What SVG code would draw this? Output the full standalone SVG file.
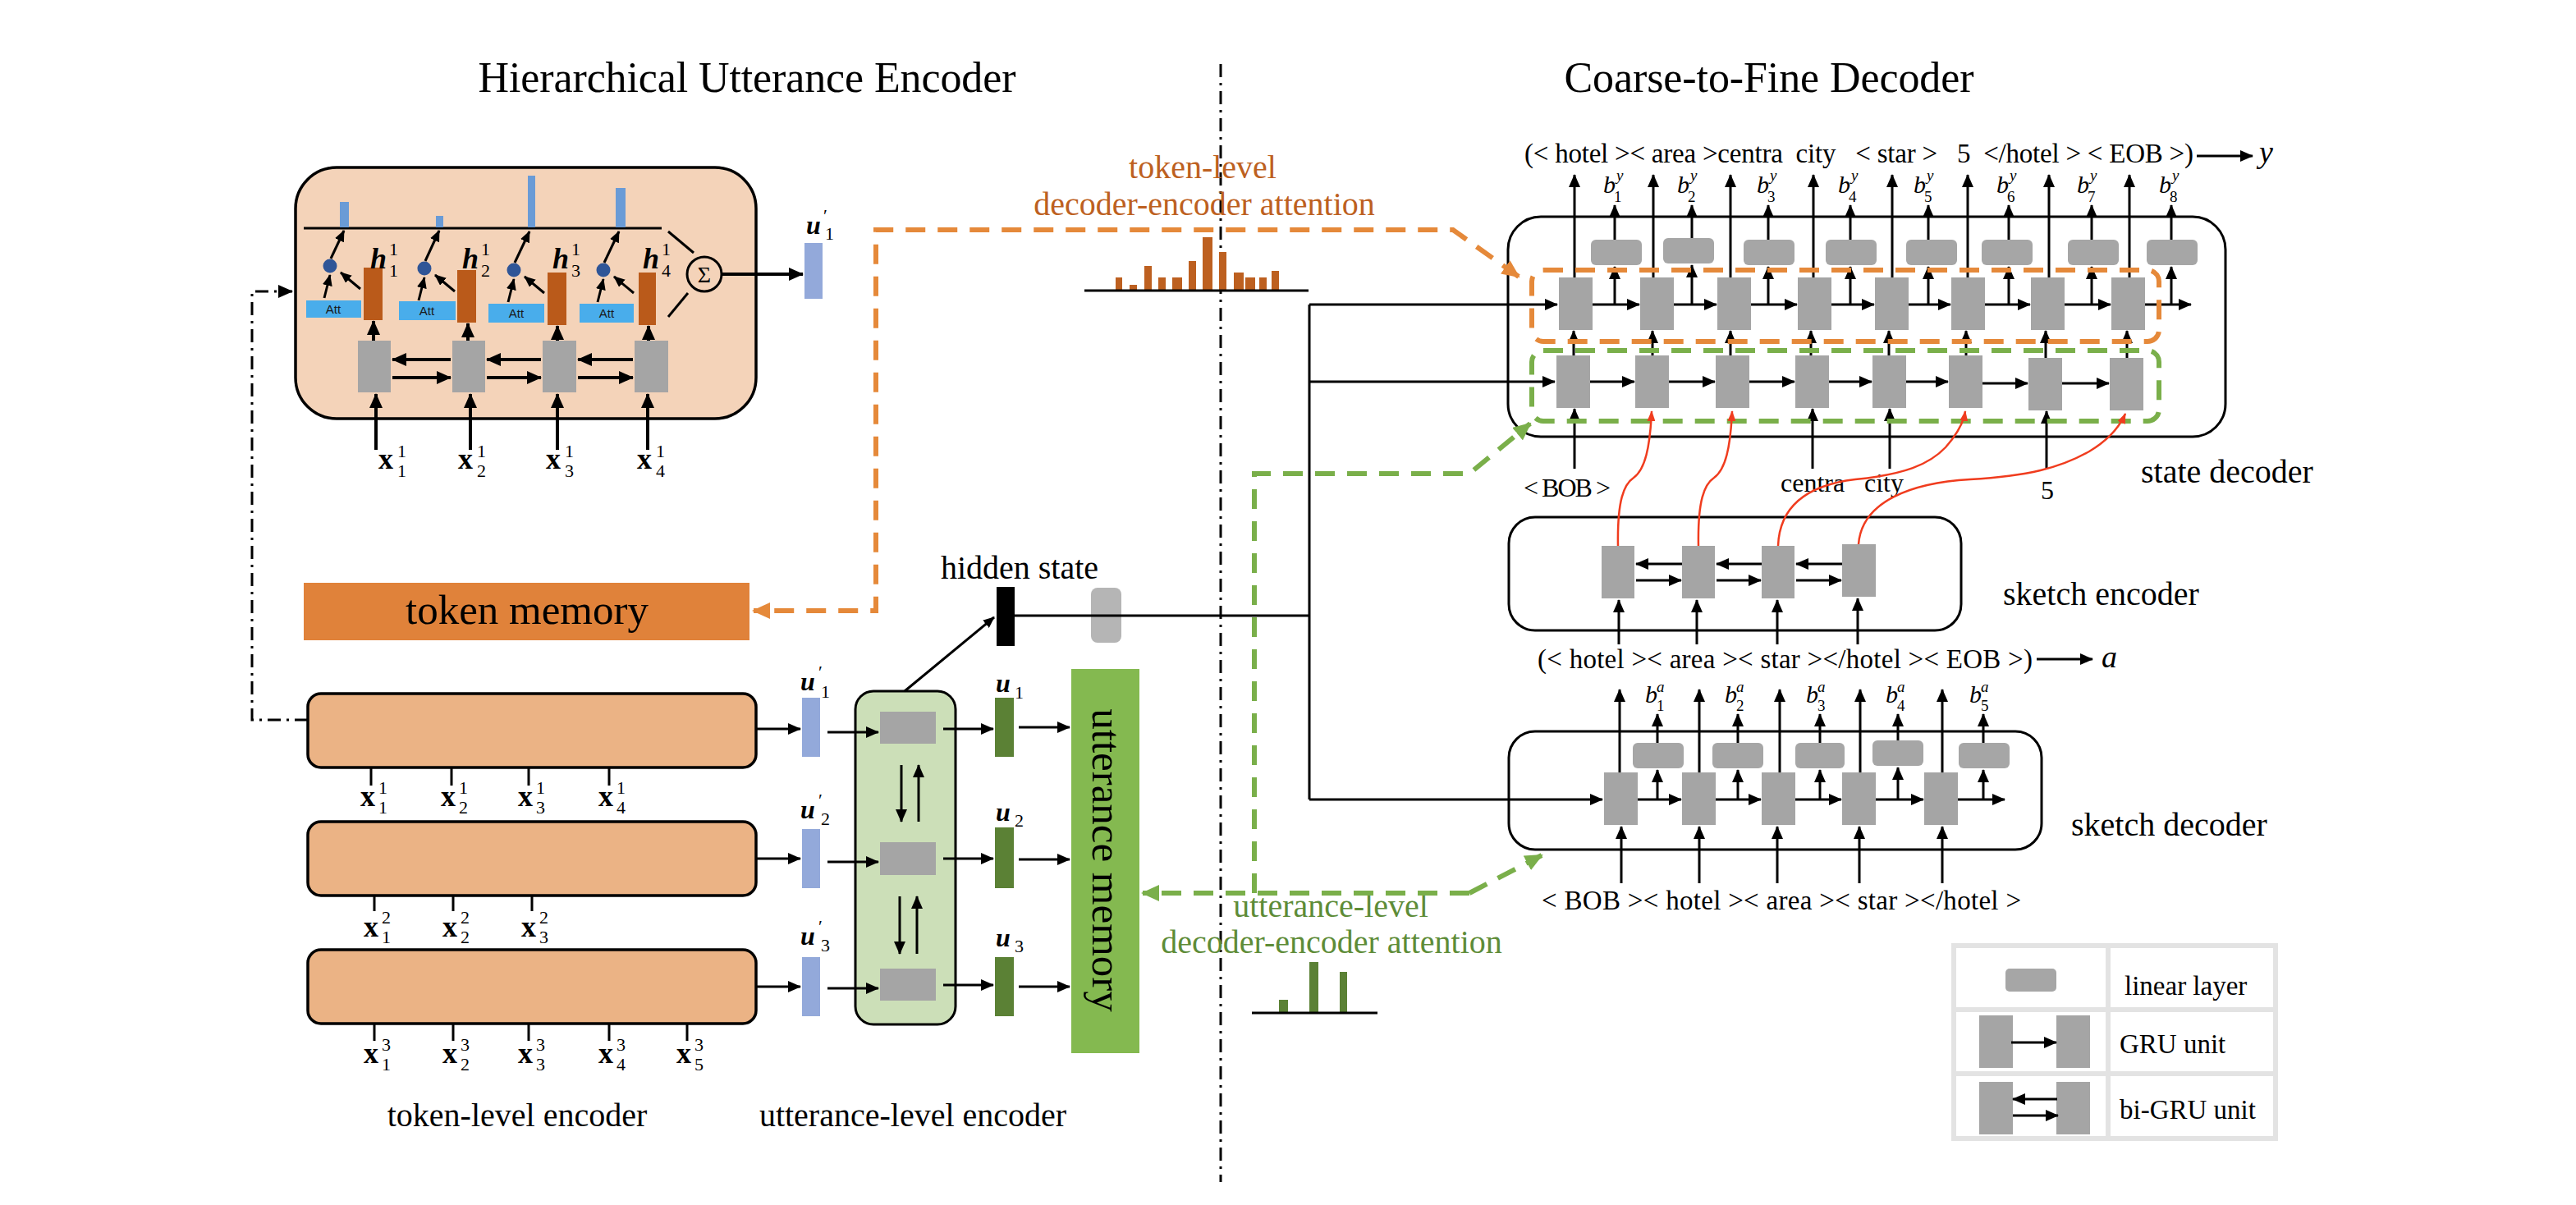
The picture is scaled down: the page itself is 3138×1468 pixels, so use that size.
<svg xmlns="http://www.w3.org/2000/svg" width="3138" height="1468" viewBox="0 0 3138 1468">
<defs>
<style>
text{font-family:"Liberation Serif","Times New Roman",serif;fill:#000}
.tt{font-size:52px}
.lb{font-size:40px}
.gru{fill:#A5A5A5}
.lin{fill:#A6A6A6}
.ln{stroke:#000;stroke-width:3;fill:none}
.a{stroke:#000;stroke-width:3;fill:none;marker-end:url(#am)}
.aL{stroke:#000;stroke-width:4;fill:none;marker-end:url(#al)}
.aS{stroke:#000;stroke-width:3;fill:none;marker-end:url(#as)}
.red{stroke:#F03C1E;stroke-width:2.5;fill:none;marker-end:url(#ar)}
.od{stroke:#E5893A;stroke-width:6;fill:none;stroke-dasharray:24 15}
.gd{stroke:#7AAF4A;stroke-width:6;fill:none;stroke-dasharray:24 15}
.dd{stroke:#000;stroke-width:3;fill:none;stroke-dasharray:16 7 3 7}
.xl{font-weight:bold;font-size:36px}
.ss{font-size:22px}
.hb{font-weight:bold;font-style:italic;font-size:36px}
.ub{font-weight:bold;font-style:italic;font-size:32px}
.bi{font-style:italic;font-size:30px}
.bs{font-style:italic;font-size:19px}
.bn{font-size:19px}
.tok{font-size:33px;white-space:pre}
.att{font-family:"Liberation Sans",Arial,sans-serif;font-size:15px;fill:#1a1a1a}
.orange{fill:#BD6020}
.green{fill:#5E8C38}
</style>
<marker id="am" viewBox="0 0 16 14" refX="15" refY="7" markerWidth="16" markerHeight="14" markerUnits="userSpaceOnUse" orient="auto"><path d="M0,0L16,7L0,14z" fill="#000"/></marker>
<marker id="al" viewBox="0 0 18 16" refX="17" refY="8" markerWidth="18" markerHeight="16" markerUnits="userSpaceOnUse" orient="auto"><path d="M0,0L18,8L0,16z" fill="#000"/></marker>
<marker id="as" viewBox="0 0 14 12" refX="13" refY="6" markerWidth="14" markerHeight="12" markerUnits="userSpaceOnUse" orient="auto"><path d="M0,0L14,6L0,12z" fill="#000"/></marker>
<marker id="ar" viewBox="0 0 13 10" refX="12" refY="5" markerWidth="13" markerHeight="10" markerUnits="userSpaceOnUse" orient="auto"><path d="M0,0L13,5L0,10z" fill="#F03C1E"/></marker>
<marker id="ao" viewBox="0 0 22 20" refX="20" refY="10" markerWidth="22" markerHeight="20" markerUnits="userSpaceOnUse" orient="auto-start-reverse"><path d="M0,0L22,10L0,20z" fill="#E5893A"/></marker>
<marker id="ag" viewBox="0 0 22 20" refX="20" refY="10" markerWidth="22" markerHeight="20" markerUnits="userSpaceOnUse" orient="auto"><path d="M0,0L22,10L0,20z" fill="#7AAF4A"/></marker>
</defs>
<rect width="3138" height="1468" fill="#fff"/>

<g id="titles">
<text class="tt" x="910" y="112" text-anchor="middle" textLength="655">Hierarchical Utterance Encoder</text>
<text class="tt" x="2155" y="112" text-anchor="middle" textLength="499">Coarse-to-Fine Decoder</text>
</g>

<g id="divider">
<line class="dd" x1="1487" y1="78" x2="1487" y2="1440"/>
</g>

<g id="attention-encoder">
<rect x="360" y="204" width="561" height="306" rx="50" fill="#F4D3B9" stroke="#000" stroke-width="3.5"/>
<line class="ln" x1="370" y1="278" x2="806" y2="278" stroke-width="3.5"/>
<g fill="#6A9BD6"><rect x="414" y="246" width="11" height="31"/><rect x="531" y="263" width="9" height="14"/><rect x="643" y="214" width="9" height="63"/><rect x="750" y="229" width="12" height="48"/></g>
<line class="ln" x1="814" y1="282" x2="845" y2="308"/>
<line class="ln" x1="814" y1="386" x2="838" y2="357"/>
<circle cx="858" cy="334" r="21" fill="none" stroke="#000" stroke-width="3"/>
<text x="858" y="344" font-size="28" text-anchor="middle">Σ</text>
<g fill="#49ADEB"><rect x="373" y="366" width="67" height="21"/><rect x="486" y="367" width="69" height="23"/><rect x="595" y="370" width="68" height="23"/><rect x="706" y="370" width="66" height="23"/></g>
<text class="att" x="406" y="382" text-anchor="middle">Att</text>
<text class="att" x="520" y="384" text-anchor="middle">Att</text>
<text class="att" x="629" y="387" text-anchor="middle">Att</text>
<text class="att" x="739" y="387" text-anchor="middle">Att</text>
<g fill="#BA5A1A"><rect x="443" y="326" width="23" height="64"/><rect x="557" y="329" width="23" height="64"/><rect x="667" y="332" width="23" height="64"/><rect x="778" y="332" width="21" height="64"/></g>
<g fill="#2F5597"><circle cx="402" cy="324" r="8.5"/><circle cx="517" cy="327" r="8.5"/><circle cx="626" cy="329" r="8.5"/><circle cx="735" cy="329" r="8.5"/></g>
<line class="aS" x1="395" y1="363" x2="402" y2="335"/>
<line class="aS" x1="510" y1="366" x2="517" y2="338"/>
<line class="aS" x1="619" y1="368" x2="626" y2="340"/>
<line class="aS" x1="728" y1="368" x2="735" y2="340"/>
<line class="aS" x1="439" y1="352" x2="415" y2="332"/>
<line class="aS" x1="554" y1="355" x2="530" y2="335"/>
<line class="aS" x1="663" y1="357" x2="639" y2="337"/>
<line class="aS" x1="772" y1="357" x2="748" y2="337"/>
<line class="aS" x1="403" y1="315" x2="419" y2="281"/>
<line class="aS" x1="518" y1="318" x2="535" y2="281"/>
<line class="aS" x1="627" y1="320" x2="645" y2="282"/>
<line class="aS" x1="736" y1="320" x2="754" y2="282"/>
<text class="hb" x="451" y="327">h</text><text class="ss" x="474" y="311">1</text><text class="ss" x="474" y="337">1</text>
<text class="hb" x="563" y="327">h</text><text class="ss" x="586" y="311">1</text><text class="ss" x="586" y="337">2</text>
<text class="hb" x="673" y="327">h</text><text class="ss" x="696" y="311">1</text><text class="ss" x="696" y="337">3</text>
<text class="hb" x="783" y="327">h</text><text class="ss" x="806" y="311">1</text><text class="ss" x="806" y="337">4</text>
<g class="gru"><rect x="436" y="415" width="40" height="63"/><rect x="551" y="415" width="40" height="63"/><rect x="661" y="415" width="41" height="63"/><rect x="773" y="415" width="41" height="63"/></g>
<line class="aL" x1="455" y1="415" x2="455" y2="391"/>
<line class="aL" x1="570" y1="415" x2="570" y2="394"/>
<line class="aL" x1="679" y1="415" x2="679" y2="397"/>
<line class="aL" x1="790" y1="415" x2="790" y2="397"/>
<line class="aL" x1="549" y1="438" x2="478" y2="438"/>
<line class="aL" x1="659" y1="438" x2="593" y2="438"/>
<line class="aL" x1="771" y1="438" x2="704" y2="438"/>
<line class="aL" x1="478" y1="460" x2="549" y2="460"/>
<line class="aL" x1="593" y1="460" x2="659" y2="460"/>
<line class="aL" x1="704" y1="460" x2="771" y2="460"/>
<line class="aL" x1="458" y1="548" x2="458" y2="480"/>
<line class="aL" x1="573" y1="548" x2="573" y2="480"/>
<line class="aL" x1="679" y1="548" x2="679" y2="480"/>
<line class="aL" x1="789" y1="548" x2="789" y2="480"/>
<text class="xl" x="461" y="571">x</text><text class="ss" x="484" y="557">1</text><text class="ss" x="484" y="581">1</text>
<text class="xl" x="558" y="571">x</text><text class="ss" x="581" y="557">1</text><text class="ss" x="581" y="581">2</text>
<text class="xl" x="665" y="571">x</text><text class="ss" x="688" y="557">1</text><text class="ss" x="688" y="581">3</text>
<text class="xl" x="776" y="571">x</text><text class="ss" x="799" y="557">1</text><text class="ss" x="799" y="581">4</text>
<rect x="980" y="296" width="22" height="68" fill="#93A9DA"/>
<text class="ub" x="982" y="285">u</text><text class="ss" x="1003" y="270">′</text><text class="ss" x="1005" y="292">1</text>
</g>

<g id="token-memory">
<rect x="370" y="710" width="543" height="70" fill="#E0823A"/>
<text x="642" y="760" font-size="51" text-anchor="middle">token memory</text>
</g>

<g id="token-encoder-1">
<rect x="375" y="845" width="546" height="90" rx="16" fill="#EBB385" stroke="#000" stroke-width="3.5"/>
<g class="ln" stroke-width="2.5"><line x1="452" y1="935" x2="452" y2="957"/><line x1="550" y1="935" x2="550" y2="957"/><line x1="644" y1="935" x2="644" y2="957"/><line x1="742" y1="935" x2="742" y2="957"/></g>
<text class="xl" x="439" y="982">x</text><text class="ss" x="461" y="967">1</text><text class="ss" x="461" y="991">1</text>
<text class="xl" x="537" y="982">x</text><text class="ss" x="559" y="967">1</text><text class="ss" x="559" y="991">2</text>
<text class="xl" x="631" y="982">x</text><text class="ss" x="653" y="967">1</text><text class="ss" x="653" y="991">3</text>
<text class="xl" x="729" y="982">x</text><text class="ss" x="751" y="967">1</text><text class="ss" x="751" y="991">4</text>
</g>
<g id="token-encoder-2">
<rect x="375" y="1001" width="546" height="90" rx="16" fill="#EBB385" stroke="#000" stroke-width="3.5"/>
<g class="ln" stroke-width="2.5"><line x1="456" y1="1091" x2="456" y2="1110"/><line x1="552" y1="1091" x2="552" y2="1110"/><line x1="648" y1="1091" x2="648" y2="1110"/></g>
<text class="xl" x="443" y="1141">x</text><text class="ss" x="465" y="1125">2</text><text class="ss" x="465" y="1149">1</text>
<text class="xl" x="539" y="1141">x</text><text class="ss" x="561" y="1125">2</text><text class="ss" x="561" y="1149">2</text>
<text class="xl" x="635" y="1141">x</text><text class="ss" x="657" y="1125">2</text><text class="ss" x="657" y="1149">3</text>
</g>
<g id="token-encoder-3">
<rect x="375" y="1157" width="546" height="90" rx="16" fill="#EBB385" stroke="#000" stroke-width="3.5"/>
<g class="ln" stroke-width="2.5"><line x1="456" y1="1247" x2="456" y2="1268"/><line x1="552" y1="1247" x2="552" y2="1268"/><line x1="644" y1="1247" x2="644" y2="1268"/><line x1="742" y1="1247" x2="742" y2="1268"/><line x1="837" y1="1247" x2="837" y2="1268"/></g>
<text class="xl" x="443" y="1295">x</text><text class="ss" x="465" y="1280">3</text><text class="ss" x="465" y="1304">1</text>
<text class="xl" x="539" y="1295">x</text><text class="ss" x="561" y="1280">3</text><text class="ss" x="561" y="1304">2</text>
<text class="xl" x="631" y="1295">x</text><text class="ss" x="653" y="1280">3</text><text class="ss" x="653" y="1304">3</text>
<text class="xl" x="729" y="1295">x</text><text class="ss" x="751" y="1280">3</text><text class="ss" x="751" y="1304">4</text>
<text class="xl" x="824" y="1295">x</text><text class="ss" x="846" y="1280">3</text><text class="ss" x="846" y="1304">5</text>
<text class="lb" x="630" y="1372" text-anchor="middle">token-level encoder</text>
</g>

<g id="utterance-encoder">
<g fill="#93A9DA"><rect x="977" y="850" width="22" height="72"/><rect x="977" y="1010" width="22" height="72"/><rect x="977" y="1166" width="22" height="72"/></g>
<text class="ub" x="975" y="841">u</text><text class="ss" x="997" y="826">′</text><text class="ss" x="1000" y="850">1</text>
<text class="ub" x="975" y="997">u</text><text class="ss" x="997" y="982">′</text><text class="ss" x="1000" y="1005">2</text>
<text class="ub" x="975" y="1151">u</text><text class="ss" x="997" y="1136">′</text><text class="ss" x="1000" y="1159">3</text>
<rect x="1042" y="842" width="122" height="406" rx="22" fill="#CCDFB8" stroke="#000" stroke-width="3"/>
<g class="gru"><rect x="1072" y="867" width="68" height="39"/><rect x="1072" y="1026" width="68" height="40"/><rect x="1072" y="1180" width="68" height="39"/></g>
<line class="a" x1="1098" y1="932" x2="1098" y2="1001"/>
<line class="a" x1="1119" y1="1001" x2="1119" y2="932"/>
<line class="a" x1="1096" y1="1092" x2="1096" y2="1162"/>
<line class="a" x1="1117" y1="1162" x2="1117" y2="1092"/>
<g fill="#5B8135"><rect x="1212" y="850" width="23" height="72"/><rect x="1212" y="1008" width="23" height="74"/><rect x="1212" y="1166" width="23" height="72"/></g>
<text class="ub" x="1213" y="843">u</text><text class="ss" x="1236" y="851">1</text>
<text class="ub" x="1213" y="1000">u</text><text class="ss" x="1236" y="1007">2</text>
<text class="ub" x="1213" y="1153">u</text><text class="ss" x="1236" y="1160">3</text>
<text class="lb" x="1112" y="1372" text-anchor="middle">utterance-level encoder</text>
</g>

<g id="utterance-memory">
<rect x="1305" y="815" width="83" height="468" fill="#84B950"/>
<text transform="translate(1331,1048) rotate(90)" font-size="51" text-anchor="middle" fill="#222">utterance memory</text>
</g>

<g id="hidden-state">
<text class="lb" x="1242" y="705" text-anchor="middle">hidden state</text>
<rect x="1214" y="715" width="22" height="72" fill="#000"/>
<rect x="1329" y="716" width="37" height="67" rx="8" fill="#B5B5B5"/>
</g>

<g id="token-attention">
<text class="lb orange" x="1465" y="217" text-anchor="middle">token-level</text>
<text class="lb orange" x="1467" y="262" text-anchor="middle">decoder-encoder attention</text>
<g class="orange">
<rect x="1359" y="338" width="8" height="16"/><rect x="1376" y="347" width="9" height="7"/><rect x="1394" y="324" width="9" height="30"/><rect x="1411" y="338" width="9" height="16"/><rect x="1428" y="338" width="12" height="16"/><rect x="1448" y="318" width="9" height="36"/><rect x="1465" y="289" width="12" height="65"/><rect x="1485" y="307" width="9" height="47"/><rect x="1503" y="332" width="12" height="22"/><rect x="1517" y="338" width="12" height="16"/><rect x="1534" y="338" width="9" height="16"/><rect x="1549" y="330" width="9" height="24"/>
</g>
<line class="ln" x1="1321" y1="354" x2="1594" y2="354"/>
</g>

<g id="utterance-attention">
<text class="lb green" x="1621" y="1117" text-anchor="middle">utterance-level</text>
<text class="lb green" x="1622" y="1161" text-anchor="middle">decoder-encoder attention</text>
<g fill="#5B8135"><rect x="1558" y="1218" width="11" height="16"/><rect x="1595" y="1172" width="11" height="62"/><rect x="1632" y="1184" width="9" height="50"/></g>
<line class="ln" x1="1525" y1="1234" x2="1678" y2="1234"/>
</g>

<g id="state-decoder">
<rect x="1837" y="264" width="874" height="268" rx="40" fill="none" stroke="#000" stroke-width="3"/>
<text class="tok" x="1857" y="198" textLength="815">(&lt; hotel &gt;&lt; area &gt;centra  city   &lt; star &gt;   5  &lt;/hotel &gt; &lt; EOB &gt;)</text>
<line class="a" x1="2676" y1="190" x2="2744" y2="190"/>
<text x="2752" y="198" font-size="38" font-style="italic">y</text>
<g class="lin"><rect x="1938" y="292" width="62" height="31" rx="6"/><rect x="2026" y="290" width="62" height="31" rx="6"/><rect x="2124" y="292" width="62" height="31" rx="6"/><rect x="2224" y="292" width="62" height="31" rx="6"/><rect x="2322" y="292" width="62" height="31" rx="6"/><rect x="2414" y="292" width="62" height="31" rx="6"/><rect x="2519" y="292" width="62" height="31" rx="6"/><rect x="2615" y="292" width="62" height="31" rx="6"/></g>
<g class="gru"><rect x="1899" y="338" width="41" height="64"/><rect x="1998" y="338" width="41" height="64"/><rect x="2092" y="338" width="41" height="64"/><rect x="2190" y="338" width="41" height="64"/><rect x="2284" y="338" width="41" height="64"/><rect x="2377" y="338" width="41" height="64"/><rect x="2474" y="338" width="41" height="64"/><rect x="2572" y="338" width="41" height="64"/></g>
<g class="gru"><rect x="1896" y="433" width="41" height="64"/><rect x="1992" y="433" width="41" height="64"/><rect x="2090" y="433" width="41" height="64"/><rect x="2187" y="433" width="41" height="64"/><rect x="2281" y="433" width="41" height="64"/><rect x="2374" y="433" width="41" height="64"/><rect x="2471" y="436" width="41" height="64"/><rect x="2570" y="436" width="41" height="64"/></g>
<g>
<line class="a" x1="1918" y1="338" x2="1918" y2="213"/><line class="a" x1="2014" y1="338" x2="2014" y2="213"/><line class="a" x1="2108" y1="338" x2="2108" y2="213"/><line class="a" x1="2209" y1="338" x2="2209" y2="213"/><line class="a" x1="2305" y1="338" x2="2305" y2="213"/><line class="a" x1="2397" y1="338" x2="2397" y2="213"/><line class="a" x1="2496" y1="338" x2="2496" y2="213"/><line class="a" x1="2594" y1="338" x2="2594" y2="213"/>
<line class="a" x1="1967" y1="371" x2="1967" y2="325"/><line class="a" x1="2061" y1="371" x2="2061" y2="323"/><line class="a" x1="2154" y1="371" x2="2154" y2="325"/><line class="a" x1="2254" y1="371" x2="2254" y2="325"/><line class="a" x1="2349" y1="371" x2="2349" y2="325"/><line class="a" x1="2447" y1="371" x2="2447" y2="325"/><line class="a" x1="2548" y1="371" x2="2548" y2="325"/><line class="a" x1="2645" y1="371" x2="2645" y2="325"/>
<line class="a" x1="1967" y1="292" x2="1967" y2="250"/><line class="a" x1="2061" y1="290" x2="2061" y2="250"/><line class="a" x1="2154" y1="292" x2="2154" y2="250"/><line class="a" x1="2254" y1="292" x2="2254" y2="250"/><line class="a" x1="2349" y1="292" x2="2349" y2="250"/><line class="a" x1="2447" y1="292" x2="2447" y2="250"/><line class="a" x1="2548" y1="292" x2="2548" y2="250"/><line class="a" x1="2645" y1="292" x2="2645" y2="250"/>
<line class="a" x1="1940" y1="371" x2="1997" y2="371"/><line class="a" x1="2039" y1="371" x2="2091" y2="371"/><line class="a" x1="2133" y1="371" x2="2189" y2="371"/><line class="a" x1="2231" y1="371" x2="2283" y2="371"/><line class="a" x1="2325" y1="371" x2="2376" y2="371"/><line class="a" x1="2418" y1="371" x2="2473" y2="371"/><line class="a" x1="2515" y1="371" x2="2571" y2="371"/><line class="a" x1="2613" y1="371" x2="2669" y2="371"/>
<line class="a" x1="1917" y1="433" x2="1917" y2="403"/><line class="a" x1="2013" y1="433" x2="2013" y2="403"/><line class="a" x1="2108" y1="433" x2="2108" y2="403"/><line class="a" x1="2206" y1="433" x2="2206" y2="403"/><line class="a" x1="2301" y1="433" x2="2301" y2="403"/><line class="a" x1="2395" y1="433" x2="2395" y2="403"/><line class="a" x1="2492" y1="436" x2="2492" y2="403"/><line class="a" x1="2591" y1="436" x2="2591" y2="403"/>
<line class="a" x1="1937" y1="465" x2="1991" y2="465"/><line class="a" x1="2033" y1="465" x2="2089" y2="465"/><line class="a" x1="2131" y1="465" x2="2186" y2="465"/><line class="a" x1="2228" y1="465" x2="2280" y2="465"/><line class="a" x1="2322" y1="465" x2="2373" y2="465"/><line class="a" x1="2415" y1="467" x2="2470" y2="467"/><line class="a" x1="2512" y1="467" x2="2569" y2="467"/>
<line class="a" x1="1918" y1="571" x2="1918" y2="498"/><line class="a" x1="2208" y1="571" x2="2208" y2="498"/><line class="a" x1="2302" y1="571" x2="2302" y2="498"/><line class="a" x1="2493" y1="571" x2="2493" y2="501"/>
</g>
<text class="bi" x="1953" y="235">b</text><text class="bs" x="1969" y="220">y</text><text class="bn" x="1966" y="246">1</text>
<text class="bi" x="2043" y="235">b</text><text class="bs" x="2059" y="220">y</text><text class="bn" x="2056" y="246">2</text>
<text class="bi" x="2140" y="235">b</text><text class="bs" x="2156" y="220">y</text><text class="bn" x="2153" y="246">3</text>
<text class="bi" x="2239" y="235">b</text><text class="bs" x="2255" y="220">y</text><text class="bn" x="2252" y="246">4</text>
<text class="bi" x="2331" y="235">b</text><text class="bs" x="2347" y="220">y</text><text class="bn" x="2344" y="246">5</text>
<text class="bi" x="2432" y="235">b</text><text class="bs" x="2448" y="220">y</text><text class="bn" x="2445" y="246">6</text>
<text class="bi" x="2530" y="235">b</text><text class="bs" x="2546" y="220">y</text><text class="bn" x="2543" y="246">7</text>
<text class="bi" x="2630" y="235">b</text><text class="bs" x="2646" y="220">y</text><text class="bn" x="2643" y="246">8</text>
<rect class="od" x="1866" y="329" width="764" height="87" rx="14"/>
<rect class="gd" x="1866" y="427" width="764" height="86" rx="14"/>
<text x="1856" y="605" font-size="32" textLength="106">&lt; BOB &gt;</text>
<text x="2169" y="599" font-size="32">centra</text>
<text x="2271" y="599" font-size="32">city</text>
<text x="2486" y="608" font-size="32">5</text>
<text class="lb" x="2608" y="588">state decoder</text>
</g>

<g id="sketch-encoder">
<rect x="1838" y="630" width="551" height="138" rx="32" fill="none" stroke="#000" stroke-width="3"/>
<g class="gru"><rect x="1951" y="665" width="40" height="64"/><rect x="2049" y="665" width="40" height="64"/><rect x="2146" y="665" width="40" height="64"/><rect x="2244" y="663" width="41" height="64"/></g>
<line class="a" x1="2049" y1="687" x2="1993" y2="687"/><line class="a" x1="2146" y1="687" x2="2091" y2="687"/><line class="a" x1="2244" y1="687" x2="2188" y2="687"/>
<line class="a" x1="1993" y1="707" x2="2048" y2="707"/><line class="a" x1="2091" y1="707" x2="2145" y2="707"/><line class="a" x1="2188" y1="707" x2="2243" y2="707"/>
<line class="a" x1="1972" y1="785" x2="1972" y2="731"/><line class="a" x1="2067" y1="785" x2="2067" y2="731"/><line class="a" x1="2165" y1="785" x2="2165" y2="731"/><line class="a" x1="2263" y1="785" x2="2263" y2="729"/>
<text class="lb" x="2440" y="737">sketch encoder</text>
<text class="tok" x="1873" y="814" font-size="34" textLength="603">(&lt; hotel &gt;&lt; area &gt;&lt; star &gt;&lt;/hotel &gt;&lt; EOB &gt;)</text>
<line class="a" x1="2481" y1="803" x2="2549" y2="803"/>
<text x="2560" y="813" font-size="38" font-style="italic">a</text>
</g>

<g id="sketch-decoder">
<rect x="1838" y="891" width="649" height="144" rx="32" fill="none" stroke="#000" stroke-width="3"/>
<g class="lin"><rect x="1989" y="905" width="62" height="31" rx="6"/><rect x="2086" y="905" width="62" height="31" rx="6"/><rect x="2187" y="905" width="60" height="31" rx="6"/><rect x="2281" y="902" width="62" height="31" rx="6"/><rect x="2386" y="905" width="62" height="31" rx="6"/></g>
<g class="gru"><rect x="1954" y="941" width="41" height="64"/><rect x="2049" y="941" width="41" height="64"/><rect x="2146" y="941" width="41" height="64"/><rect x="2244" y="941" width="41" height="64"/><rect x="2344" y="941" width="41" height="64"/></g>
<line class="a" x1="1995" y1="974" x2="2048" y2="974"/><line class="a" x1="2090" y1="974" x2="2145" y2="974"/><line class="a" x1="2187" y1="974" x2="2243" y2="974"/><line class="a" x1="2285" y1="974" x2="2343" y2="974"/><line class="a" x1="2385" y1="974" x2="2442" y2="974"/>
<line class="a" x1="2019" y1="974" x2="2019" y2="938"/><line class="a" x1="2117" y1="974" x2="2117" y2="938"/><line class="a" x1="2217" y1="974" x2="2217" y2="938"/><line class="a" x1="2312" y1="974" x2="2312" y2="935"/><line class="a" x1="2416" y1="974" x2="2416" y2="938"/>
<line class="a" x1="2019" y1="905" x2="2019" y2="870"/><line class="a" x1="2117" y1="905" x2="2117" y2="870"/><line class="a" x1="2217" y1="905" x2="2217" y2="870"/><line class="a" x1="2312" y1="902" x2="2312" y2="870"/><line class="a" x1="2416" y1="905" x2="2416" y2="870"/>
<line class="a" x1="1973" y1="941" x2="1973" y2="840"/><line class="a" x1="2070" y1="941" x2="2070" y2="840"/><line class="a" x1="2168" y1="941" x2="2168" y2="840"/><line class="a" x1="2266" y1="941" x2="2266" y2="840"/><line class="a" x1="2366" y1="941" x2="2366" y2="840"/>
<line class="a" x1="1975" y1="1076" x2="1975" y2="1007"/><line class="a" x1="2070" y1="1076" x2="2070" y2="1007"/><line class="a" x1="2165" y1="1076" x2="2165" y2="1007"/><line class="a" x1="2265" y1="1076" x2="2265" y2="1007"/><line class="a" x1="2366" y1="1076" x2="2366" y2="1007"/>
<text class="bi" x="2004" y="856">b</text><text class="bs" x="2018" y="843">a</text><text class="bn" x="2018" y="866">1</text>
<text class="bi" x="2101" y="856">b</text><text class="bs" x="2115" y="843">a</text><text class="bn" x="2115" y="866">2</text>
<text class="bi" x="2200" y="856">b</text><text class="bs" x="2214" y="843">a</text><text class="bn" x="2214" y="866">3</text>
<text class="bi" x="2297" y="856">b</text><text class="bs" x="2311" y="843">a</text><text class="bn" x="2311" y="866">4</text>
<text class="bi" x="2399" y="856">b</text><text class="bs" x="2413" y="843">a</text><text class="bn" x="2413" y="866">5</text>
<text class="tok" x="1878" y="1108" font-size="34" textLength="584">&lt; BOB &gt;&lt; hotel &gt;&lt; area &gt;&lt; star &gt;&lt;/hotel &gt;</text>
<text class="lb" x="2523" y="1018">sketch decoder</text>
</g>

<g id="legend">
<rect x="2380" y="1152" width="392" height="235" fill="#fff" stroke="#E3E3E3" stroke-width="6"/>
<g stroke="#E3E3E3" stroke-width="6"><line x1="2568" y1="1152" x2="2568" y2="1387"/><line x1="2380" y1="1230" x2="2772" y2="1230"/><line x1="2380" y1="1308" x2="2772" y2="1308"/></g>
<rect class="lin" x="2443" y="1180" width="62" height="28" rx="5"/>
<text x="2588" y="1212" font-size="33">linear  layer</text>
<rect class="gru" x="2411" y="1237" width="41" height="64"/><rect class="gru" x="2505" y="1237" width="41" height="64"/>
<line class="a" x1="2450" y1="1270" x2="2505" y2="1270" stroke-width="2.5"/>
<text x="2582" y="1283" font-size="33">GRU unit</text>
<rect class="gru" x="2411" y="1318" width="41" height="64"/><rect class="gru" x="2505" y="1318" width="41" height="64"/>
<line class="a" x1="2506" y1="1339" x2="2452" y2="1339" stroke-width="2.5"/>
<line class="a" x1="2452" y1="1359" x2="2507" y2="1359" stroke-width="2.5"/>
<text x="2582" y="1363" font-size="33">bi-GRU unit</text>
</g>

<g id="connectors">
<path class="dd" d="M375,877 L307,877 L307,355 L356,355" stroke-width="4" marker-end="url(#al)"/>
<line class="aL" x1="879" y1="334" x2="978" y2="334"/>
<line class="a" x1="921" y1="888" x2="975" y2="888"/>
<line class="a" x1="921" y1="1046" x2="975" y2="1046"/>
<line class="a" x1="921" y1="1202" x2="975" y2="1202"/>
<line class="a" x1="1008" y1="892" x2="1070" y2="892"/>
<line class="a" x1="1008" y1="1050" x2="1070" y2="1050"/>
<line class="a" x1="1008" y1="1204" x2="1070" y2="1204"/>
<line class="a" x1="1149" y1="888" x2="1210" y2="888"/>
<line class="a" x1="1149" y1="1046" x2="1210" y2="1046"/>
<line class="a" x1="1149" y1="1200" x2="1210" y2="1200"/>
<line class="a" x1="1241" y1="886" x2="1303" y2="886"/>
<line class="a" x1="1241" y1="1047" x2="1303" y2="1047"/>
<line class="a" x1="1241" y1="1202" x2="1303" y2="1202"/>
<line class="aS" x1="1102" y1="842" x2="1211" y2="752" stroke-width="2.5"/>
<line class="ln" x1="1236" y1="750" x2="1595" y2="750"/>
<line class="ln" x1="1595" y1="371" x2="1595" y2="974"/>
<line class="a" x1="1595" y1="371" x2="1897" y2="371"/>
<line class="a" x1="1595" y1="465" x2="1894" y2="465"/>
<line class="a" x1="1595" y1="974" x2="1952" y2="974"/>
<path class="od" d="M1850,337 L1770,280 L1067,280 L1067,744 L918,744" marker-start="url(#ao)" marker-end="url(#ao)"/>
<path class="gd" d="M1528,1088 L1528,577 L1790,577 L1864,516" marker-end="url(#ag)"/>
<path class="gd" d="M1790,1088 L1878,1042" marker-end="url(#ag)"/>
<path class="gd" d="M1790,1088 L1392,1088" marker-end="url(#ag)"/>
<path class="red" d="M1971,665 C1970,610 1978,590 1990,582 C2004,572 2010,545 2012,501"/>
<path class="red" d="M2069,665 C2068,610 2076,590 2088,582 C2102,572 2108,545 2110,501"/>
<path class="red" d="M2166,665 C2168,610 2210,590 2260,584 C2320,578 2350,566 2370,545 C2385,528 2392,515 2394,501"/>
<path class="red" d="M2264,663 C2268,610 2330,588 2400,584 C2470,580 2510,570 2545,550 C2570,535 2582,520 2589,504"/>
</g>
</svg>
